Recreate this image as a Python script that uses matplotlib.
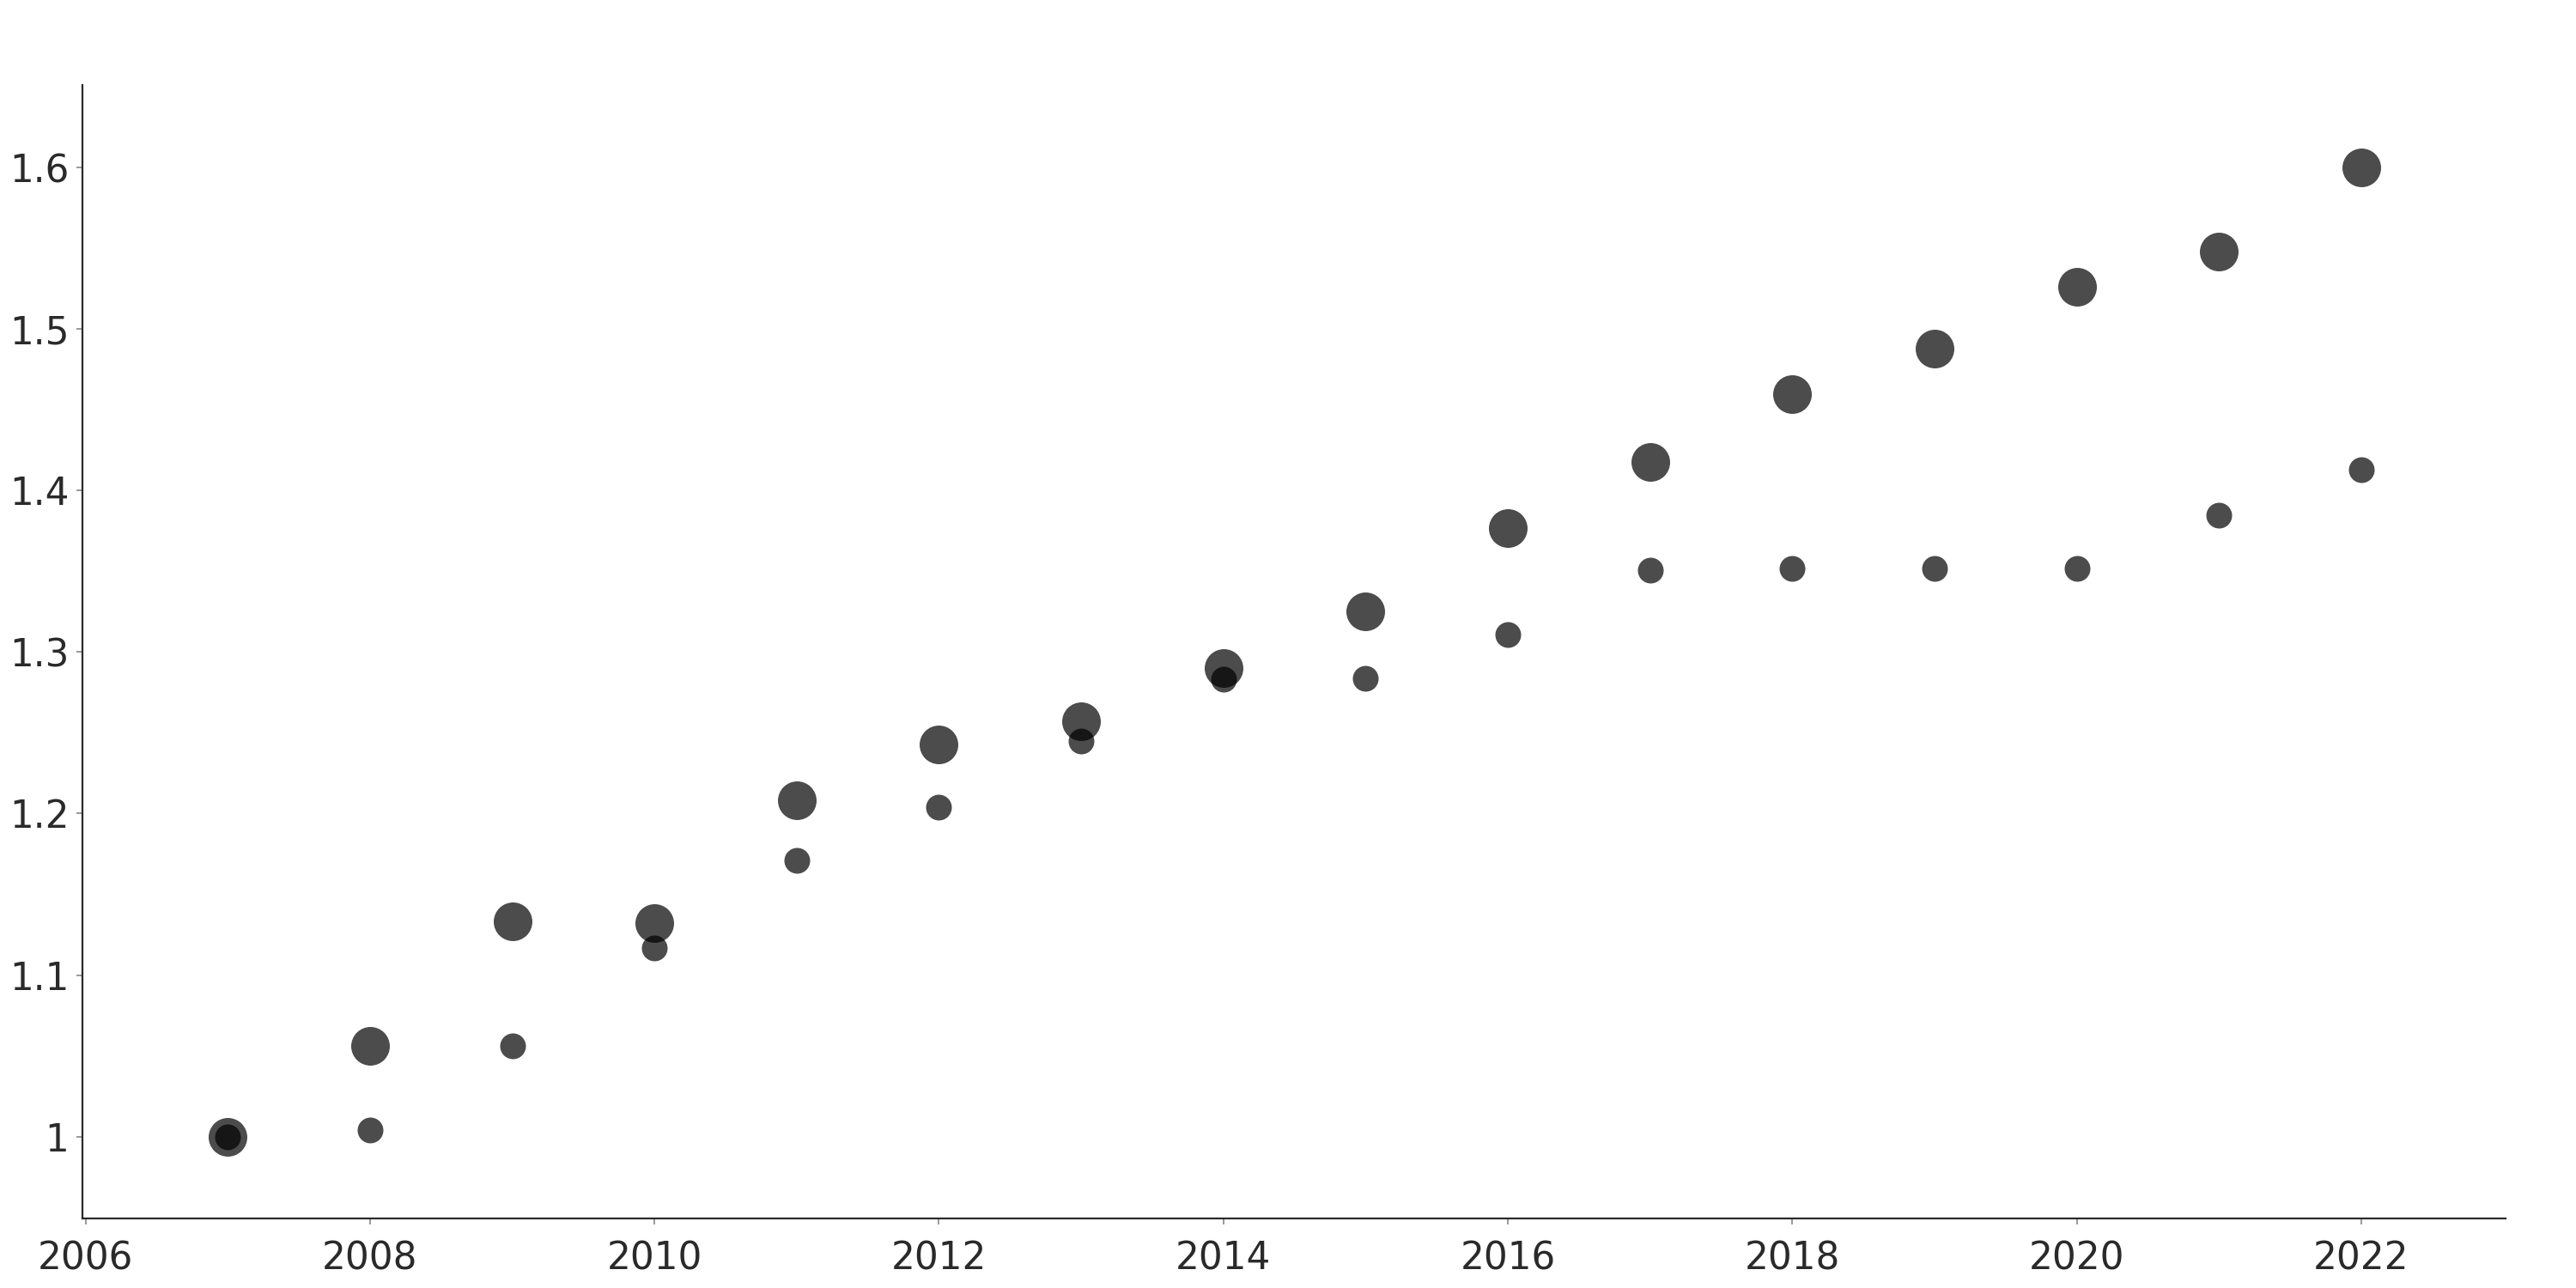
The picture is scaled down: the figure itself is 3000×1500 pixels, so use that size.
import numpy as np
import matplotlib.pyplot as plt

# --- dati ---
anni = [2007, 2008, 2009, 2010, 2011, 2012, 2013, 2014,
        2015, 2016, 2017, 2018, 2019, 2020, 2021, 2022]
serie_grande = [1.000, 1.056, 1.133, 1.132, 1.208, 1.243, 1.257, 1.290,
                1.325, 1.377, 1.418, 1.460, 1.488, 1.526, 1.548, 1.600]
serie_piccola = [1.000, 1.004, 1.056, 1.117, 1.171, 1.204, 1.245, 1.283,
                 1.284, 1.311, 1.351, 1.352, 1.352, 1.352, 1.385, 1.413]
x_ticks = [2006, 2008, 2010, 2012, 2014, 2016, 2018, 2020, 2022]
y_ticks = [1.0, 1.1, 1.2, 1.3, 1.4, 1.5, 1.6]
y_labels = ["1", "1.1", "1.2", "1.3", "1.4", "1.5", "1.6"]

fig = plt.figure(figsize=(30, 15), dpi=100)
ax = fig.add_axes([0.0319, 0.0537, 0.9408, 0.88])

# punti grandi e piccoli, nero semitrasparente
ax.scatter(anni, serie_grande, s=1050, color="black", alpha=0.7, linewidths=0)
ax.scatter(anni, serie_piccola, s=467, color="black", alpha=0.7, linewidths=0)

ax.set_xlim(2005.976, 2023.016)
ax.set_ylim(0.949, 1.651)
ax.set_xticks(x_ticks)
ax.set_yticks(y_ticks)
ax.set_yticklabels(y_labels)

for lato in ["top", "right"]:
    ax.spines[lato].set_visible(False)
for lato in ["left", "bottom"]:
    ax.spines[lato].set_color("#2a2a2a")
    ax.spines[lato].set_linewidth(1.6)

ax.tick_params(axis="both", colors="#888888", length=5, width=1.2,
               labelsize=31.5, labelcolor="#2a2a2a")
ax.tick_params(axis="x", pad=13)
ax.tick_params(axis="y", pad=6)

fig.savefig("out.png", dpi=100)
